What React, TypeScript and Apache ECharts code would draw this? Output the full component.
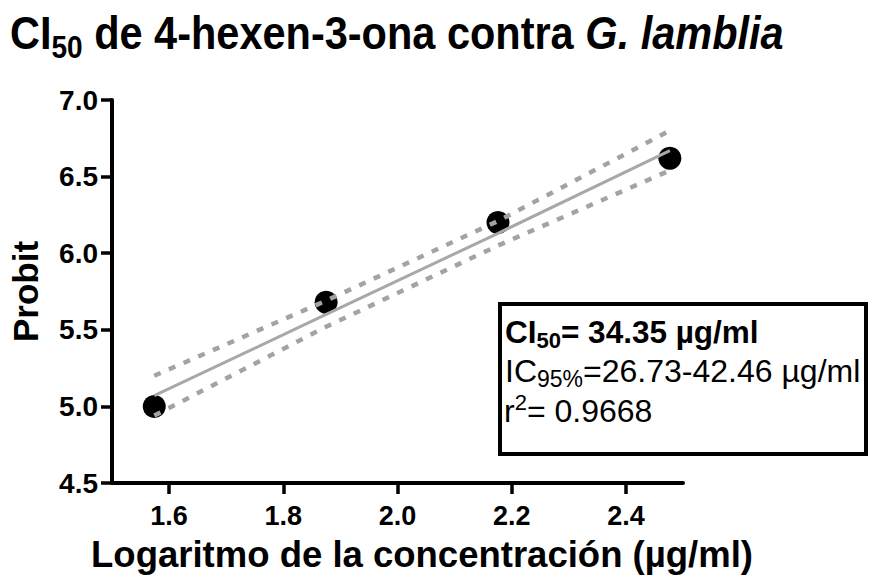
import React, { useEffect, useRef } from "react";
import * as echarts from "echarts";

// log10 of the tested concentrations (37.5, 75, 150, 300 µg/ml) and their probits
const logConc = [1.574, 1.875, 2.176, 2.477];
const probit = [5.0, 5.68, 6.2, 6.62];

// fitted probit line and its 95 % confidence band at the same abscissae
const fitProbit = [5.07, 5.6, 6.13, 6.67];
const upperBand = [5.2, 5.69, 6.21, 6.8];
const lowerBand = [4.94, 5.52, 6.05, 6.54];

const xTicks = [1.6, 1.8, 2.0, 2.2, 2.4];

const FONT = "'Liberation Sans', Arial, Helvetica, sans-serif";

const pairs = (xs: number[], ys: number[]) => xs.map((x, i) => [x, ys[i]]);

export default function App() {
  const ref = useRef<HTMLDivElement>(null);

  useEffect(() => {
    if (!ref.current) return;
    const chart = echarts.init(ref.current, undefined, { renderer: "svg" });

    const bandStyle = { color: "#a3a3a3", width: 4.5, type: [7, 9] as number[] };

    chart.setOption({
      animation: false,
      backgroundColor: "#ffffff",
      grid: { left: 110, right: 186, top: 100, bottom: 97, containLabel: false },
      xAxis: {
        type: "value",
        min: 1.5,
        max: 2.5,
        name: "Logaritmo de la concentración (µg/ml)",
        nameLocation: "middle",
        nameGap: 53,
        nameTextStyle: {
          fontFamily: FONT,
          fontSize: 36.5,
          fontWeight: "bold",
          color: "#000",
          padding: [0, 0, 0, 49],
        },
        axisLine: { lineStyle: { color: "#000", width: 4 } },
        axisTick: {
          length: 11,
          lineStyle: { color: "#000", width: 3.5 },
          customValues: xTicks,
        },
        axisLabel: {
          customValues: xTicks,
          margin: 19,
          fontFamily: FONT,
          fontSize: 27,
          fontWeight: "bold",
          color: "#000",
          formatter: (v: number) => v.toFixed(1),
        },
        splitLine: { show: false },
      },
      yAxis: {
        type: "value",
        min: 4.5,
        max: 7,
        interval: 0.5,
        name: "Probit",
        nameLocation: "middle",
        nameRotate: 90,
        nameGap: 69,
        nameTextStyle: {
          fontFamily: FONT,
          fontSize: 35,
          fontWeight: "bold",
          color: "#000",
        },
        axisLine: { show: true, lineStyle: { color: "#000", width: 4 } },
        axisTick: { show: true, length: 11, lineStyle: { color: "#000", width: 3.5 } },
        axisLabel: {
          margin: 14,
          fontFamily: FONT,
          fontSize: 28,
          fontWeight: "bold",
          color: "#000",
          formatter: (v: number) => v.toFixed(1),
        },
        splitLine: { show: false },
      },
      series: [
        {
          type: "scatter",
          data: pairs(logConc, probit),
          symbol: "circle",
          symbolSize: 23,
          itemStyle: { color: "#000", opacity: 1 },
          z: 2,
        },
        {
          type: "line",
          data: pairs(logConc, fitProbit),
          showSymbol: false,
          lineStyle: { color: "#a8a8a8", width: 3 },
          z: 3,
        },
        {
          type: "line",
          data: pairs(logConc, upperBand),
          showSymbol: false,
          lineStyle: bandStyle,
          z: 4,
        },
        {
          type: "line",
          data: pairs(logConc, lowerBand),
          showSymbol: false,
          lineStyle: bandStyle,
          z: 4,
        },
      ],
      graphic: [
        // chart title, slightly tall lettering
        {
          type: "text",
          x: 10,
          y: 4,
          scaleY: 1.12,
          style: {
            text: "{t|CI}{s|50}{t| de 4-hexen-3-ona contra }{i|G. lamblia}",
            rich: {
              t: { fontFamily: FONT, fontSize: 41.5, fontWeight: "bold", fill: "#000" },
              s: {
                fontFamily: FONT,
                fontSize: 28,
                fontWeight: "bold",
                fill: "#000",
                padding: [24, 0, 0, 0],
              },
              i: {
                fontFamily: FONT,
                fontSize: 41.5,
                fontWeight: "bold",
                fontStyle: "italic",
                fill: "#000",
              },
            },
          },
        },
        {
          type: "rect",
          shape: { x: 500, y: 304, width: 366, height: 150 },
          style: { fill: "#fff", stroke: "#000", lineWidth: 4 },
          z: 10,
        },
        {
          type: "text",
          x: 505,
          y: 313,
          z: 11,
          style: {
            text: "{b|CI}{bs|50}{b|= 34.35 µg/ml}",
            rich: {
              b: { fontFamily: FONT, fontSize: 31.5, fontWeight: "bold", fill: "#000" },
              bs: {
                fontFamily: FONT,
                fontSize: 22,
                fontWeight: "bold",
                fill: "#000",
                padding: [16, 0, 0, 0],
              },
            },
          },
        },
        {
          type: "text",
          x: 505,
          y: 351,
          z: 11,
          style: {
            text: "{n|IC}{s|95%}{n|=26.73-42.46 µg/ml}",
            rich: {
              n: { fontFamily: FONT, fontSize: 32, fill: "#000" },
              s: { fontFamily: FONT, fontSize: 23, fill: "#000", padding: [16, 0, 0, 0] },
            },
          },
        },
        {
          type: "text",
          x: 504,
          y: 391,
          z: 11,
          style: {
            text: "{n|r}{p|2}{n|= 0.9668}",
            rich: {
              n: { fontFamily: FONT, fontSize: 32, fill: "#000" },
              p: { fontFamily: FONT, fontSize: 22, fill: "#000", padding: [0, 0, 18, 0] },
            },
          },
        },
      ],
    });

    return () => chart.dispose();
  }, []);

  return (
    <div
      ref={ref}
      style={{ position: "fixed", left: 0, top: 0, width: 869, height: 580, background: "#fff" }}
    />
  );
}
